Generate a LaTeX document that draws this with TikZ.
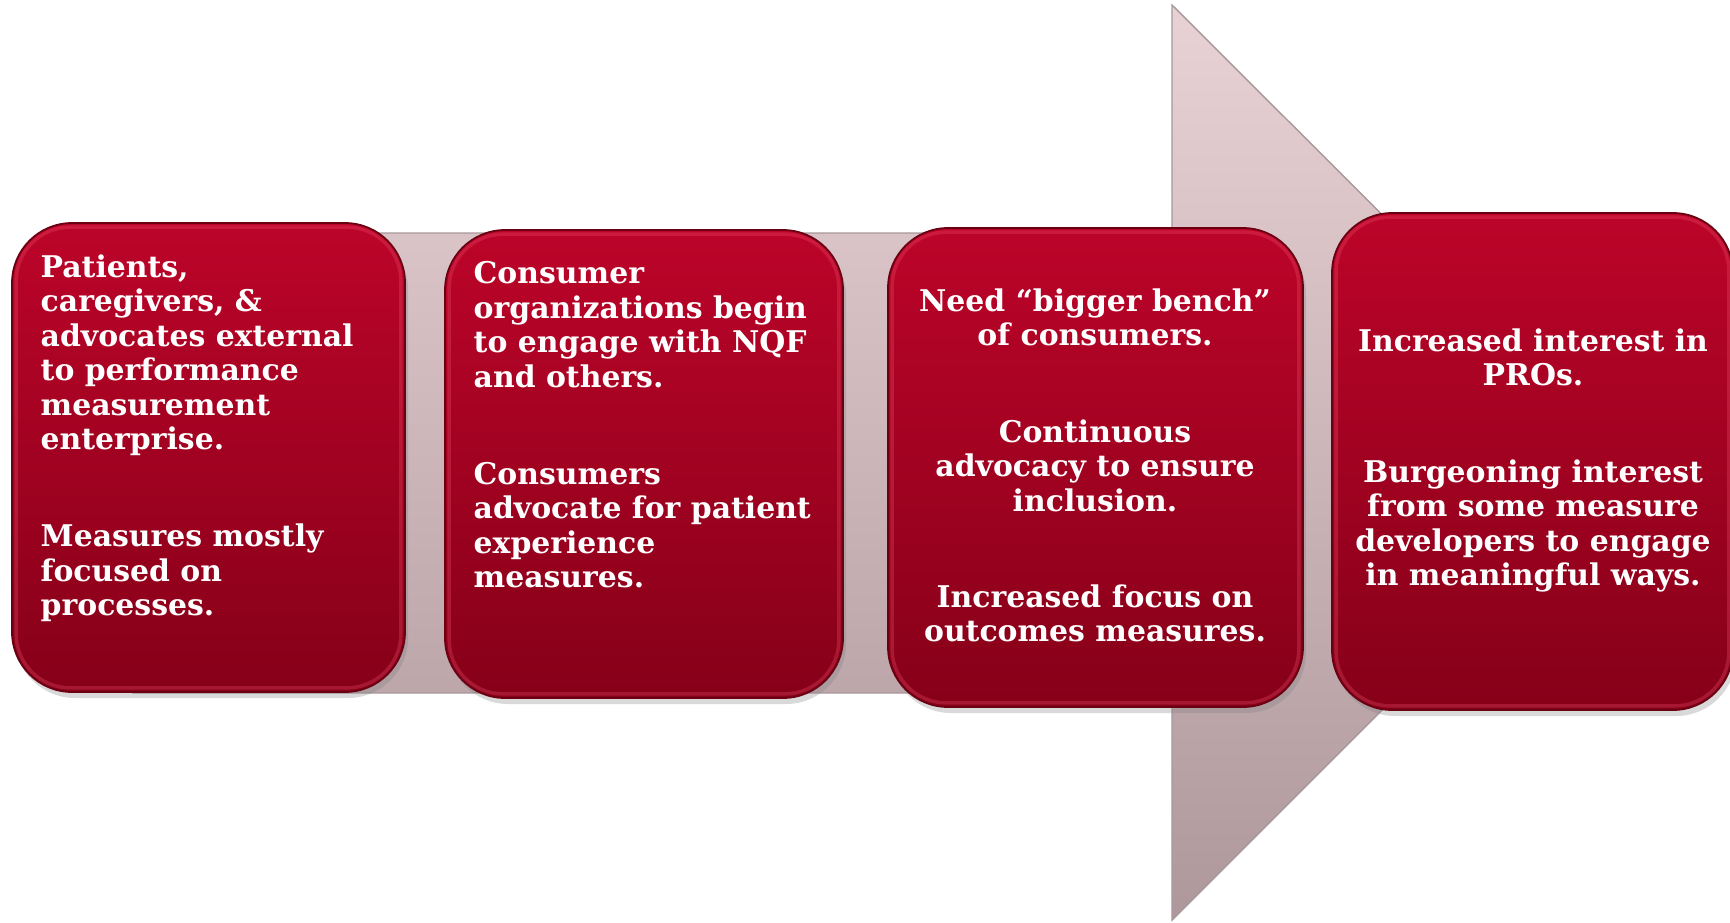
\documentclass[tikz,border=0pt]{standalone}
\usepackage{fontspec}
\setmainfont{DejaVu Serif}
\usepackage{tikz}
\usetikzlibrary{shadows}
\definecolor{stepTop}{HTML}{BC0429}
\definecolor{stepBot}{HTML}{860018}
\definecolor{stepEdge}{HTML}{6A0011}
\definecolor{stepGlow}{HTML}{F0506C}
\definecolor{arrowTop}{HTML}{E8D2D6}
\definecolor{arrowBot}{HTML}{AE989C}
\definecolor{arrowEdge}{HTML}{A8979A}

\begin{document}
\begin{tikzpicture}[x=0.1mm, y=-0.1mm,
  stepbox/.style={rounded corners=6mm, top color=stepTop, bottom color=stepBot,
    draw=stepEdge, line width=0.5pt, inner sep=0,
    drop shadow={opacity=0.3, shadow xshift=0.3mm, shadow yshift=-0.6mm}},
  bevel/.style={rounded corners=5.4mm, draw=stepGlow, line width=1pt, opacity=0.3},
  steptext/.style={text=white, inner sep=0,
    font=\bfseries\fontsize{8.5}{9.8}\selectfont}]
  \useasboundingbox (0,0) rectangle (1730,922);

  % the big arrow behind the steps
  \draw[top color=arrowTop, bottom color=arrowBot, draw=arrowEdge, line width=0.4pt]
    (133,233) -- (1172,233) -- (1172,5) -- (1630,462) -- (1172,920)
    -- (1172,693) -- (133,693) -- cycle;

  % the four steps
  \node[stepbox, minimum width=39.3mm, minimum height=46.9mm] (box1) at (208.5,457.5) {};
  \node[stepbox, minimum width=39.8mm, minimum height=46.8mm] (box2) at (644,464) {};
  \node[stepbox, minimum width=41.5mm, minimum height=47.9mm] (box3) at (1095.5,467.5) {};
  \node[stepbox, minimum width=40.1mm, minimum height=49.7mm] (box4) at (1532.5,461.5) {};
  \foreach \b in {box1,box2,box3,box4}
    \draw[bevel] ([shift={(5,5)}]\b.north west) rectangle ([shift={(-5,-5)}]\b.south east);

  \node[steptext, anchor=north west, align=left] (txt1) at (40,254)
    {Patients,\\ caregivers, \&\\ advocates external\\ to performance\\ measurement\\ enterprise.\\[17.8pt]
     Measures mostly\\ focused on\\ processes.};
  \node[steptext, anchor=north west, align=left] (txt2) at (473,261)
    {Consumer\\ organizations begin\\ to engage with NQF\\ and others.\\[17.8pt]
     Consumers\\ advocate for patient\\ experience\\ measures.};
  \node[steptext, anchor=north, align=center] (txt3) at (1095,288)
    {Need “bigger bench”\\ of consumers.\\[17.6pt]
     Continuous\\ advocacy to ensure\\ inclusion.\\[17.6pt]
     Increased focus on\\ outcomes measures.};
  \node[steptext, anchor=north, align=center] (txt4) at (1533,328)
    {Increased interest in\\ PROs.\\[17.6pt]
     Burgeoning interest\\ from some measure\\ developers to engage\\ in meaningful ways.};
\end{tikzpicture}
\end{document}
